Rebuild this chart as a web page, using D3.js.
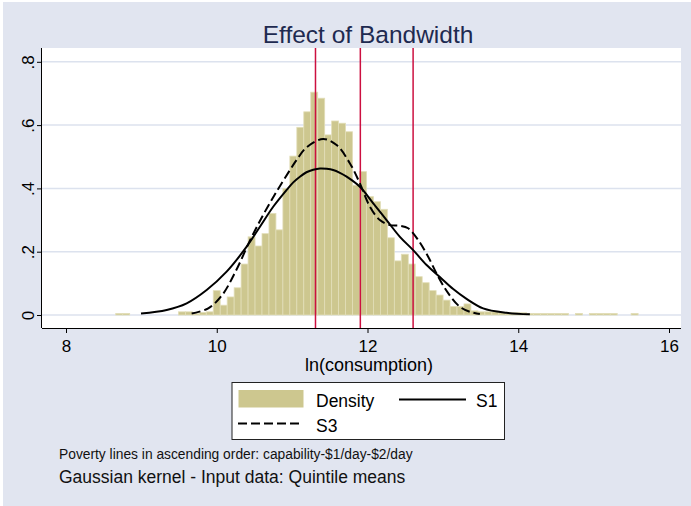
<!DOCTYPE html>
<html><head><meta charset="utf-8">
<script src="https://cdn.jsdelivr.net/npm/d3@7"></script>
<style>body{margin:0;background:#fff}svg{display:block}text{font-family:"Liberation Sans",Arial,Helvetica,sans-serif}</style>
</head><body><svg id="c" width="691" height="506"></svg>
<script>
// ---- data ----
const binStart = 8.660;
const binWidth = 0.0924;
const densityValues = [
  0.005,0.005,0,0,0,0,0,0,0,0.010,
  0.010,0.004,0.008,0.010,0.077,0.031,0.057,0.086,0.161,0.247,
  0.218,0.257,0.321,0.269,0.400,0.502,0.593,0.642,0.704,0.685,
  0.569,0.613,0.606,0.579,0.410,0.453,0.374,0.358,0.334,0.244,
  0.171,0.192,0.161,0.121,0.102,0.077,0.063,0.047,0.027,0.027,
  0.035,0.013,0.010,0.010,0.010,0.007,0.007,0.007,0.007,0.005,
  0.005,0.005,0.005,0.005,0.005,0,0.005,0,0.005,0.005,
  0.005,0.005,0,0,0.005
];
const s1X = [8.995,9.336,9.601,9.866,10.131,10.397,10.573,10.749,10.927,11.015,11.103,11.190,11.280,11.370,11.460,11.545,11.634,11.723,11.899,12.076,12.253,12.430,12.606,12.784,12.960,13.137,13.314,13.534,13.845,14.154];
const s1Y = [0.005,0.016,0.037,0.079,0.137,0.216,0.279,0.342,0.395,0.419,0.437,0.451,0.459,0.463,0.462,0.458,0.449,0.437,0.405,0.353,0.300,0.247,0.205,0.158,0.120,0.082,0.051,0.021,0.007,0.002];
const s3X = [9.667,9.887,10.069,10.255,10.440,10.613,10.794,10.971,11.060,11.192,11.412,11.590,11.767,11.899,12.032,12.164,12.297,12.430,12.540,12.672,12.805,12.938,13.070,13.225,13.358,13.491];
const s3Y = [0.005,0.021,0.062,0.140,0.235,0.315,0.390,0.458,0.490,0.530,0.556,0.537,0.479,0.416,0.342,0.300,0.284,0.282,0.274,0.237,0.184,0.121,0.069,0.026,0.010,0.003];
const povertyLines = [11.31, 11.905, 12.605];
const xTicks = [8, 10, 12, 14, 16];
const yTicks = [0, 0.2, 0.4, 0.6, 0.8];
const yTickLabels = ["0", ".2", ".4", ".6", ".8"];
const titleText = "Effect of Bandwidth";
const xTitle = "ln(consumption)";
const legendItems = ["Density", "S1", "S3"];
const notes = ["Poverty lines in ascending order: capability-$1/day-$2/day", "Gaussian kernel - Input data: Quintile means"];

// ---- drawing ----
const svg = d3.select("#c");
const bg = "#e1e5f0";
const barFill = "#cdc78f";
svg.append("rect").attr("x",3).attr("y",2).attr("width",688).attr("height",504).attr("fill",bg);

const plot = {l:42, r:681, t:48, b:328};
svg.append("rect").attr("x",plot.l).attr("y",plot.t).attr("width",plot.r-plot.l).attr("height",plot.b-plot.t).attr("fill","#fff");

const x = d3.scaleLinear().domain([8,16]).range([66,669]);
const y = d3.scaleLinear().domain([0,0.8]).range([315,61.8]);

// gridlines
svg.append("g").selectAll("line").data(yTicks).join("line")
  .attr("x1",plot.l).attr("x2",plot.r).attr("y1",d=>y(d)).attr("y2",d=>y(d))
  .attr("stroke","#dce2ee").attr("stroke-width",1.5);

// bars
const bins = densityValues.map((v,i)=>({x0:binStart+i*binWidth, x1:binStart+(i+1)*binWidth, v}));
svg.append("g").selectAll("rect").data(bins.filter(b=>b.v>0)).join("rect")
  .attr("x",d=>x(d.x0)).attr("width",d=>x(d.x1)-x(d.x0))
  .attr("y",d=>y(d.v)).attr("height",d=>y(0)-y(d.v))
  .attr("fill",barFill).attr("stroke","#e2deb8").attr("stroke-width",0.8);

// poverty lines
svg.append("g").selectAll("line").data(povertyLines).join("line")
  .attr("x1",d=>x(d)).attr("x2",d=>x(d)).attr("y1",plot.t).attr("y2",plot.b)
  .attr("stroke","#cc1040").attr("stroke-width",1.5);

// curves
const line = d3.line().x(d=>x(d[0])).y(d=>y(d[1])).curve(d3.curveCatmullRom.alpha(0.5));
svg.append("path").datum(s1X.map((v,i)=>[v,s1Y[i]])).attr("d",line)
  .attr("fill","none").attr("stroke","#000").attr("stroke-width",2);
svg.append("path").datum(s3X.map((v,i)=>[v,s3Y[i]])).attr("d",line)
  .attr("fill","none").attr("stroke","#000").attr("stroke-width",2).attr("stroke-dasharray","9,4");

// axes
const xAxis = svg.append("g").attr("transform",`translate(0,${plot.b})`)
  .call(d3.axisBottom(x).tickValues(xTicks).tickSize(5).tickFormat(d3.format("d")));
xAxis.select(".domain").attr("d",`M${plot.l},0.5H${plot.r}`).attr("stroke","#000");
xAxis.selectAll("text").attr("font-size",17).attr("fill","#000").attr("dy","0.95em");
xAxis.selectAll("line").attr("stroke","#000");

const yAxis = svg.append("g").attr("transform",`translate(${plot.l},0)`)
  .call(d3.axisLeft(y).tickValues(yTicks).tickSize(5).tickFormat((d,i)=>yTickLabels[i]));
yAxis.select(".domain").attr("d",`M-0.5,${plot.t}V${plot.b}`).attr("stroke","#000");
yAxis.selectAll("line").attr("stroke","#000");
yAxis.selectAll("text").attr("font-size",17).attr("fill","#000")
  .attr("text-anchor","middle").attr("dy","0").attr("x",0)
  .attr("transform","translate(-8,0) rotate(-90)");

// titles
svg.append("text").attr("x",368).attr("y",43).attr("text-anchor","middle")
  .attr("font-size",24.5).attr("fill","#1e2a50").text(titleText);
svg.append("text").attr("x",369).attr("y",371).attr("text-anchor","middle")
  .attr("font-size",18).attr("fill","#000").text(xTitle);

// legend
const lg = svg.append("g");
lg.append("rect").attr("x",232).attr("y",382.5).attr("width",272.5).attr("height",57).attr("fill","#fff").attr("stroke","#222").attr("stroke-width",1);
lg.append("rect").attr("x",238.5).attr("y",390).attr("width",65).attr("height",17.5).attr("fill",barFill);
lg.append("text").attr("x",316).attr("y",407).attr("font-size",17.5).text(legendItems[0]);
lg.append("line").attr("x1",399).attr("x2",466).attr("y1",399.5).attr("y2",399.5).attr("stroke","#000").attr("stroke-width",2);
lg.append("text").attr("x",476).attr("y",407).attr("font-size",17.5).text(legendItems[1]);
lg.append("line").attr("x1",238).attr("x2",302).attr("y1",423.5).attr("y2",423.5).attr("stroke","#000").attr("stroke-width",2).attr("stroke-dasharray","9,4");
lg.append("text").attr("x",316).attr("y",432).attr("font-size",17.5).text(legendItems[2]);

// notes
svg.append("text").attr("x",59).attr("y",459).attr("font-size",13.8).attr("fill","#111").text(notes[0]);
svg.append("text").attr("x",59).attr("y",483).attr("font-size",17.5).attr("fill","#111").text(notes[1]);
</script></body></html>
